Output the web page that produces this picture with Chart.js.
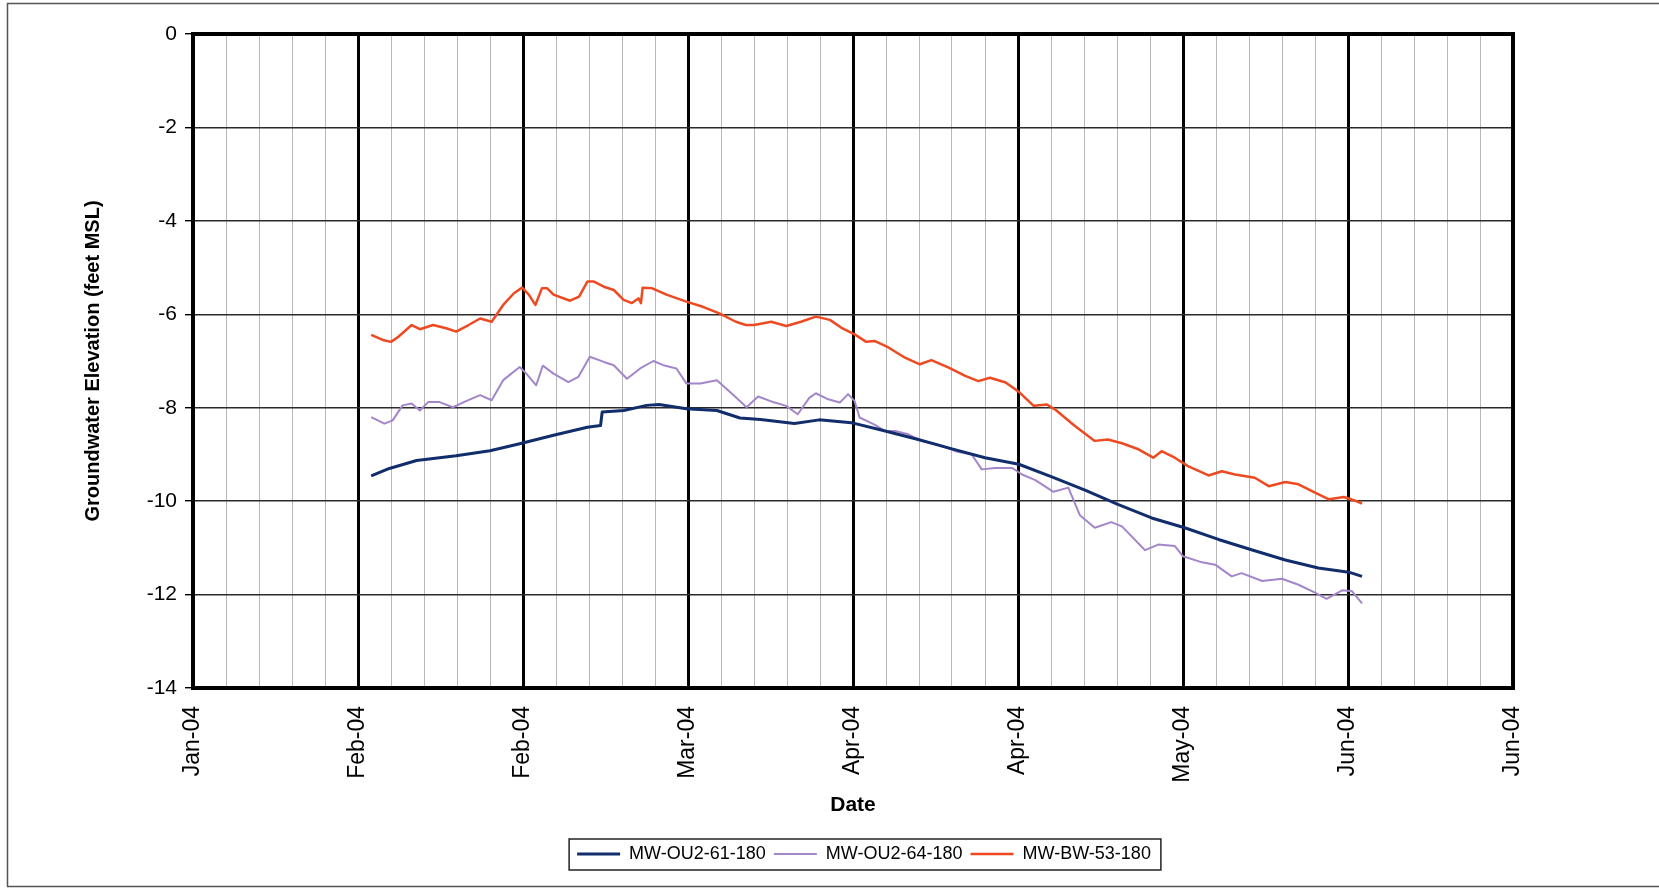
<!DOCTYPE html>
<html>
<head>
<meta charset="utf-8">
<title>Groundwater Elevation</title>
<script src="https://cdn.jsdelivr.net/npm/chart.js@4.4.1/dist/chart.umd.min.js"></script>
<style>
  html, body { margin: 0; padding: 0; background: #ffffff; }
  #wrap { width: 1659px; height: 889px; position: relative; }
</style>
</head>
<body>
<div id="wrap"><canvas id="levelChart"></canvas></div>
<script>
// Dates are Excel serial days (38000 = 14 Jan 2004), levels in feet MSL
var xMin = 38000, xMax = 38160, majorStep = 20, minorStep = 4;
var yTicks = [0, -2, -4, -6, -8, -10, -12, -14];
var seriesNames = ['MW-OU2-61-180', 'MW-OU2-64-180', 'MW-BW-53-180'];

var ou261Days = [38021.6, 38023.8, 38027.1, 38031.9, 38036.0, 38039.6, 38043.7, 38047.8, 38049.4, 38049.6,
                 38052.2, 38055.0, 38056.5, 38059.8, 38063.5, 38066.3, 38068.8, 38072.9, 38075.9, 38079.8,
                 38083.9, 38087.9, 38092.0, 38096.0, 38100.1, 38104.1, 38108.2, 38112.1, 38116.2, 38120.2,
                 38124.3, 38128.3, 38132.4, 38136.4, 38140.1, 38141.7];
var ou261Elev = [-9.46, -9.30, -9.13, -9.03, -8.92, -8.77, -8.59, -8.42, -8.38, -8.09,
                 -8.06, -7.95, -7.93, -8.02, -8.06, -8.22, -8.25, -8.34, -8.26, -8.32,
                 -8.50, -8.68, -8.88, -9.07, -9.21, -9.48, -9.77, -10.07, -10.36, -10.57,
                 -10.82, -11.04, -11.26, -11.43, -11.52, -11.61];

var ou264Days = [38021.6, 38023.2, 38024.2, 38025.4, 38026.5, 38027.5, 38028.5, 38029.9, 38031.5, 38033.1,
                 38034.8, 38036.2, 38037.6, 38039.6, 38040.4, 38041.6, 38042.4, 38043.7, 38045.5, 38046.7,
                 38048.1, 38049.8, 38051.0, 38052.6, 38054.2, 38055.8, 38057.0, 38058.6, 38059.8, 38061.5,
                 38063.5, 38065.5, 38067.1, 38068.5, 38070.5, 38071.9, 38073.3, 38074.7, 38075.5, 38077.0,
                 38078.4, 38079.4, 38080.2, 38080.8, 38082.6, 38083.9, 38085.1, 38086.7, 38088.3, 38090.3,
                 38092.4, 38094.4, 38095.6, 38097.2, 38099.3, 38100.5, 38102.1, 38104.3, 38106.1, 38107.5,
                 38109.3, 38111.3, 38112.6, 38115.4, 38117.0, 38119.0, 38120.0, 38122.3, 38123.9, 38125.9,
                 38127.1, 38129.6, 38132.0, 38134.0, 38136.0, 38137.4, 38139.3, 38140.5, 38141.7];
var ou264Elev = [-8.20, -8.34, -8.27, -7.95, -7.91, -8.06, -7.88, -7.88, -7.99, -7.86,
                 -7.73, -7.84, -7.41, -7.13, -7.27, -7.52, -7.10, -7.27, -7.45, -7.34,
                 -6.91, -7.02, -7.09, -7.38, -7.16, -7.00, -7.09, -7.16, -7.48, -7.48,
                 -7.41, -7.73, -7.99, -7.76, -7.89, -7.96, -8.14, -7.79, -7.69, -7.82,
                 -7.89, -7.71, -7.86, -8.21, -8.36, -8.50, -8.50, -8.57, -8.71, -8.79,
                 -8.93, -9.00, -9.32, -9.29, -9.29, -9.43, -9.55, -9.80, -9.71, -10.30,
                 -10.57, -10.45, -10.54, -11.05, -10.93, -10.96, -11.18, -11.31, -11.36, -11.61,
                 -11.54, -11.71, -11.66, -11.79, -11.96, -12.09, -11.91, -11.93, -12.19];

var bw53Days = [38021.6, 38023.0, 38024.0, 38024.9, 38026.5, 38027.5, 38029.1, 38030.7, 38031.9, 38033.4,
                38034.8, 38036.2, 38037.6, 38038.9, 38039.9, 38040.7, 38041.5, 38042.3, 38042.9, 38043.7,
                38045.7, 38046.8, 38047.8, 38048.6, 38049.8, 38051.0, 38052.2, 38053.2, 38054.0, 38054.3,
                38054.5, 38055.6, 38057.4, 38059.8, 38061.8, 38063.8, 38065.8, 38067.0, 38068.0, 38070.1,
                38071.9, 38073.7, 38075.5, 38077.2, 38078.6, 38080.2, 38081.6, 38082.6, 38084.3, 38086.3,
                38088.1, 38089.5, 38091.6, 38093.6, 38095.2, 38096.6, 38098.5, 38100.1, 38101.9, 38103.5,
                38104.5, 38106.9, 38109.3, 38110.9, 38112.6, 38114.6, 38116.4, 38117.4, 38119.0, 38120.6,
                38123.1, 38124.7, 38126.3, 38128.7, 38130.4, 38132.4, 38134.0, 38136.0, 38137.7, 38139.5,
                38140.7, 38141.7];
var bw53Elev = [-6.44, -6.55, -6.59, -6.48, -6.23, -6.32, -6.23, -6.30, -6.37, -6.23,
                -6.09, -6.16, -5.80, -5.55, -5.43, -5.58, -5.80, -5.44, -5.44, -5.58,
                -5.71, -5.62, -5.30, -5.30, -5.41, -5.48, -5.69, -5.76, -5.66, -5.76,
                -5.43, -5.44, -5.58, -5.73, -5.84, -5.98, -6.16, -6.23, -6.23, -6.16,
                -6.25, -6.16, -6.05, -6.12, -6.29, -6.43, -6.59, -6.57, -6.71, -6.93,
                -7.07, -6.98, -7.14, -7.32, -7.43, -7.36, -7.46, -7.66, -7.96, -7.93,
                -8.04, -8.39, -8.71, -8.68, -8.76, -8.89, -9.07, -8.93, -9.07, -9.25,
                -9.45, -9.36, -9.43, -9.50, -9.68, -9.59, -9.64, -9.82, -9.96, -9.91,
                -9.98, -10.05];

var monthNames = ['Jan', 'Feb', 'Mar', 'Apr', 'May', 'Jun', 'Jul', 'Aug', 'Sep', 'Oct', 'Nov', 'Dec'];

function serialToLabel(v) {
    var d = new Date(Date.UTC(1899, 11, 30) + v * 86400000);
    return monthNames[d.getUTCMonth()] + '-' + String(d.getUTCFullYear()).slice(2);
}

function toPoints(days, vals) {
    return days.map(function(x, i) { return { x: x, y: vals[i] }; });
}

function isMajor(v) {
    return (Math.round(v) - xMin) % majorStep === 0;
}

var FONT = "'Liberation Sans', Arial, sans-serif";

// white page with the thin outer frame
var frame = {
    id: 'frame',
    beforeDraw: function(chart) {
        var ctx = chart.ctx;
        ctx.save();
        ctx.fillStyle = '#ffffff';
        ctx.fillRect(0, 0, chart.width, chart.height);
        ctx.strokeStyle = '#555555';
        ctx.lineWidth = 1.5;
        ctx.beginPath();
        ctx.moveTo(chart.width, 3.5);
        ctx.lineTo(7.5, 3.5);
        ctx.lineTo(7.5, 886.5);
        ctx.lineTo(chart.width, 886.5);
        ctx.stroke();
        ctx.restore();
    },
    afterDraw: function(chart) {
        var ctx = chart.ctx, a = chart.chartArea;
        ctx.save();
        ctx.strokeStyle = '#000000';
        ctx.lineWidth = 4;
        ctx.strokeRect(a.left, a.top, a.right - a.left, a.bottom - a.top);
        // box round the legend
        var hb = chart.legend.legendHitBoxes;
        if (hb && hb.length) {
            var x0 = hb[0].left - 8;
            var last = hb[hb.length - 1];
            var x1 = last.left + last.width + 10;
            var yc = hb[0].top + hb[0].height / 2;
            ctx.lineWidth = 1.5;
            ctx.strokeStyle = '#222222';
            ctx.strokeRect(x0, yc - 15, x1 - x0, 31);
        }
        ctx.restore();
    }
};

// legend sits under the middle of the plot, not the page
var legendShift = {
    id: 'legendShift',
    afterLayout: function(chart) {
        var lg = chart.legend;
        var dx = 864 - (lg.left + lg.right) / 2;
        lg.left += dx;
        lg.right += dx;
    }
};

var ctx = document.getElementById('levelChart').getContext('2d');
var chart = new Chart(ctx, {
    type: 'line',
    data: {
        datasets: [{
            label: seriesNames[0],
            data: toPoints(ou261Days, ou261Elev),
            borderColor: '#112d6c',
            backgroundColor: '#112d6c',
            borderWidth: 3
        }, {
            label: seriesNames[1],
            data: toPoints(ou264Days, ou264Elev),
            borderColor: '#a386c9',
            backgroundColor: '#a386c9',
            borderWidth: 2
        }, {
            label: seriesNames[2],
            data: toPoints(bw53Days, bw53Elev),
            borderColor: '#ee4a22',
            backgroundColor: '#ee4a22',
            borderWidth: 2.5
        }]
    },
    options: {
        responsive: true,
        maintainAspectRatio: false,
        animation: false,
        parsing: false,
        elements: {
            point: { radius: 0, hoverRadius: 0 },
            line: { tension: 0, borderJoinStyle: 'round' }
        },
        layout: { padding: { left: 10, right: 146, top: 34, bottom: 16 } },
        plugins: {
            tooltip: { enabled: false },
            legend: {
                display: true,
                position: 'bottom',
                labels: {
                    color: '#000000',
                    font: { family: FONT, size: 18 },
                    usePointStyle: true,
                    pointStyle: 'line',
                    pointStyleWidth: 43,
                    padding: 8
                }
            }
        },
        scales: {
            x: {
                type: 'linear',
                min: xMin,
                max: xMax,
                afterFit: function(scale) { scale.height = 149; },
                border: { display: false },
                grid: {
                    drawTicks: false,
                    color: function(c) { return c.tick && isMajor(c.tick.value) ? '#000000' : '#b8b8b8'; },
                    lineWidth: function(c) { return c.tick && isMajor(c.tick.value) ? 3 : 1; }
                },
                ticks: {
                    stepSize: minorStep,
                    autoSkip: false,
                    minRotation: 90,
                    maxRotation: 90,
                    padding: 18,
                    color: '#000000',
                    font: { family: FONT, size: 23 },
                    callback: function(v) { return isMajor(v) ? serialToLabel(v) : ''; }
                },
                title: {
                    display: true,
                    text: 'Date',
                    color: '#000000',
                    font: { family: FONT, size: 21, weight: 'bold' },
                    padding: { top: 0, bottom: 19 }
                }
            },
            y: {
                min: yTicks[yTicks.length - 1],
                max: yTicks[0],
                afterFit: function(scale) { scale.width = 183; },
                afterBuildTicks: function(scale) {
                    scale.ticks = yTicks.map(function(v) { return { value: v }; });
                },
                border: { display: false },
                grid: {
                    color: '#2a2a2a',
                    lineWidth: 1.4,
                    tickColor: '#000000',
                    tickLength: 8
                },
                ticks: {
                    padding: 8,
                    color: '#000000',
                    font: { family: FONT, size: 21 }
                },
                title: {
                    display: true,
                    text: 'Groundwater Elevation (feet MSL)',
                    color: '#000000',
                    font: { family: FONT, size: 20, weight: 'bold' },
                    padding: { top: 71, bottom: 0 }
                }
            }
        }
    },
    plugins: [frame, legendShift]
});
</script>
</body>
</html>
